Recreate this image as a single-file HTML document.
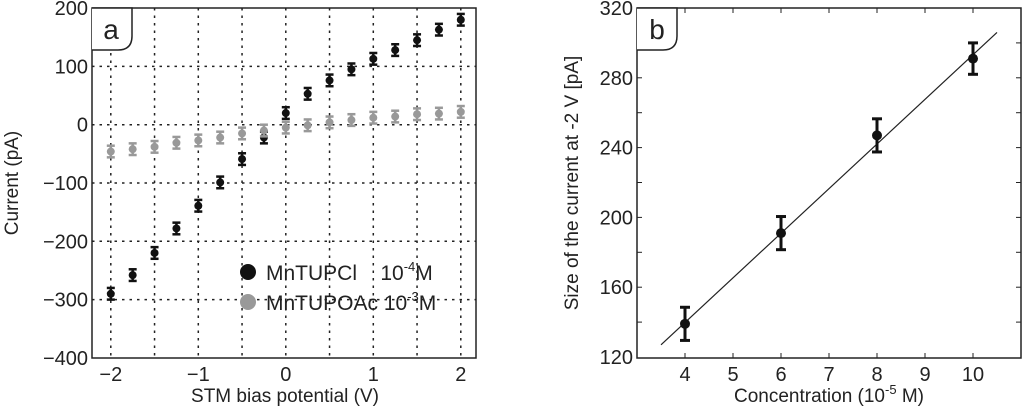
<!DOCTYPE html>
<html><head><meta charset="utf-8"><style>
body{margin:0;background:#fff}
text{font-family:"Liberation Sans",sans-serif;fill:#222}
</style></head><body>
<svg id="fig" width="1024" height="413" xmlns="http://www.w3.org/2000/svg"></svg>
<script>
const vA=[-2,-1.75,-1.5,-1.25,-1,-0.75,-0.5,-0.25,0,0.25,0.5,0.75,1,1.25,1.5,1.75,2];
const blackA=[-290,-258,-220,-178,-139,-99,-59,-22,20,53,76,95,113,128,145,163,180];
const grayA=[-46,-42,-38,-31,-27,-22,-15,-10,-5,-1,4,8,12,14,18,19,22];
const errA=10;
const xTicksA=[-2,-1,0,1,2];
const yTicksA=[200,100,0,-100,-200,-300,-400];
const concB=[4,6,8,10];
const curB=[139,191,247,291];
const errB=[9.5,9.5,9.5,9];
const fitB=[[3.5,127],[10.5,306]];
const xTicksB=[4,5,6,7,8,9,10];
const yTicksB=[120,160,200,240,280,320];

const NS='http://www.w3.org/2000/svg',svg=document.getElementById('fig');
function mk(t,a,p){const e=document.createElementNS(NS,t);for(const k in a)e.setAttribute(k,a[k]);(p||svg).appendChild(e);return e;}
function txt(s,x,y,anchor,size,p){const e=mk('text',{x:x,y:y,'text-anchor':anchor,'font-size':size},p);e.textContent=s;return e;}

// Panel A
const gA=mk('g',{});


const ax=v=>285.8+87.5*v, ay=v=>124.7-0.583*v;
const L=92,R=476,T=8,B=358;
for(let v=-2;v<=2.001;v+=0.5){const l=mk('line',{x1:ax(v),x2:ax(v),y1:T,y2:B,stroke:'#222','stroke-dasharray':'2.5,5','stroke-width':1.5},gA);}
for(const v of yTicksA){if(v===200||v===-400)continue;const l=mk('line',{x1:L,x2:R,y1:ay(v),y2:ay(v),stroke:'#222','stroke-dasharray':'2.5,5','stroke-width':1.5},gA);}
const fa=mk('rect',{x:L,y:T,width:R-L,height:B-T,fill:'none',stroke:'#222','stroke-width':1.5},gA);

const lbA=mk('path',{d:`M${L} ${T} H${L+40} V${T+28} Q${L+40} ${T+42} ${L+26} ${T+42} H${L}`,fill:'#fff',stroke:'#222','stroke-width':1.5},gA);

const la=txt('a',L+19,T+31,'middle',28,gA);
for(const v of xTicksA){const t=txt(v<0?'\u2212'+(-v):String(v),ax(v),B+23,'middle',20,gA);}
for(const v of yTicksA){const t=txt(v<0?'\u2212'+(-v):String(v),L-4,ay(v)+7,'end',20,gA);}
const xtA=txt('STM bias potential (V)',285,402,'middle',19,gA);
const ytA=txt('Current (pA)',0,0,'middle',19,gA);ytA.setAttribute('transform','translate(18,183) rotate(-90)');
function ebar(g,x,y1,y2,col,w,sw){mk('line',{x1:x,x2:x,y1:y1,y2:y2,stroke:col,'stroke-width':sw},g);mk('line',{x1:x-w,x2:x+w,y1:y1,y2:y1,stroke:col,'stroke-width':sw},g);mk('line',{x1:x-w,x2:x+w,y1:y2,y2:y2,stroke:col,'stroke-width':sw},g);}
function series(vals,col,name){vals.forEach((v,i)=>{const g=mk('g',{},gA);ebar(g,ax(vA[i]),ay(v+errA),ay(v-errA),col,4,2.5);mk('circle',{cx:ax(vA[i]),cy:ay(v),r:4,fill:col},g);});}
series(blackA,'#111','point-mntupcl');
series(grayA,'#999','point-mntupoac');
const lg=mk('g',{},gA);
const le1=mk('g',{},lg);
mk('circle',{cx:248,cy:272,r:8,fill:'#111'},le1);
const t1=mk('text',{x:266,y:280,'font-size':21},le1);t1.innerHTML='MnTUPCl&#160;&#160;&#160;&#160;10<tspan dy="-9" font-size="13">-4</tspan><tspan dy="9">M</tspan>';
const le2=mk('g',{},lg);
mk('circle',{cx:248,cy:302,r:8,fill:'#999'},le2);
const t2=mk('text',{x:266,y:310,'font-size':21},le2);t2.innerHTML='MnTUPOAc 10<tspan dy="-9" font-size="13">-3</tspan><tspan dy="9">M</tspan>';

// Panel B
const gB=mk('g',{});


const bx=v=>637+48*(v-3), by=v=>357-1.745*(v-120);
const L2=637,R2=1021;
const fb=mk('rect',{x:L2,y:T,width:R2-L2,height:B-T,fill:'none',stroke:'#222','stroke-width':1.5},gB);

for(let v=140;v<320;v+=20){mk('line',{x1:L2,x2:L2+5,y1:by(v),y2:by(v),stroke:'#222'},gB);mk('line',{x1:R2-5,x2:R2,y1:by(v),y2:by(v),stroke:'#222'},gB);}
for(const v of xTicksB){mk('line',{x1:bx(v),x2:bx(v),y1:B,y2:B-5,stroke:'#222'},gB);mk('line',{x1:bx(v),x2:bx(v),y1:T,y2:T+5,stroke:'#222'},gB);const t=txt(String(v),bx(v),B+23,'middle',20,gB);}
for(const v of yTicksB){const t=txt(String(v),L2-4,by(v)+7,'end',20,gB);}
const lbB=mk('path',{d:`M${L2} ${T} H${L2+40} V${T+28} Q${L2+40} ${T+42} ${L2+26} ${T+42} H${L2}`,fill:'#fff',stroke:'#222','stroke-width':1.5},gB);

const lb=txt('b',L2+20,T+31,'middle',28,gB);
const fit=mk('line',{x1:bx(fitB[0][0]),y1:by(fitB[0][1]),x2:bx(fitB[1][0]),y2:by(fitB[1][1]),stroke:'#222','stroke-width':1.2},gB);

concB.forEach((c,i)=>{const g=mk('g',{},gB);ebar(g,bx(c),by(curB[i]+errB[i]),by(curB[i]-errB[i]),'#111',5,3);mk('circle',{cx:bx(c),cy:by(curB[i]),r:5,fill:'#111'},g);});
const xtB=mk('text',{x:829,y:402,'text-anchor':'middle','font-size':19},gB);xtB.innerHTML='Concentration (10<tspan dy="-8" font-size="13">-5</tspan><tspan dy="8"> M)</tspan>';

const ytB=txt('Size of the current at -2 V [pA]',0,0,'middle',19,gB);ytB.setAttribute('transform','translate(578,183) rotate(-90)');
</script>
</body></html>
